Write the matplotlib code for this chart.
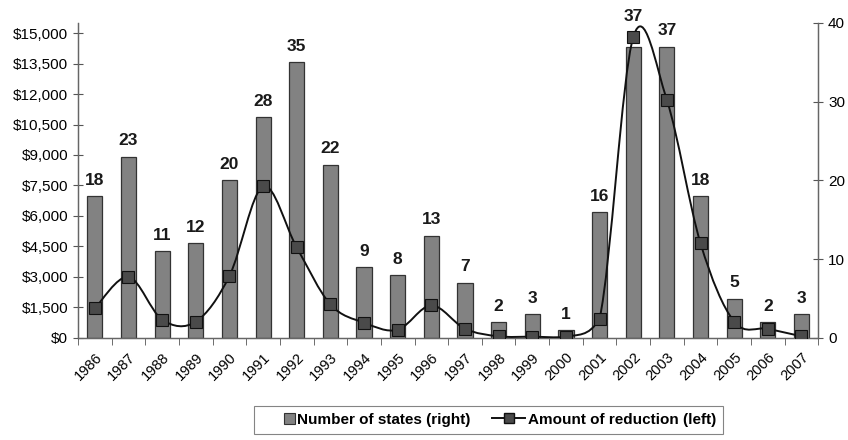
import matplotlib
matplotlib.use("Agg")
from matplotlib import pyplot as plt
from matplotlib.path import Path
from matplotlib.patches import PathPatch, Patch, Rectangle
from matplotlib.lines import Line2D
from matplotlib.legend_handler import HandlerPatch
from matplotlib.ticker import FuncFormatter, MultipleLocator
import numpy as np

plt.rcParams['font.family'] = ['Liberation Sans', 'DejaVu Sans']

# Donnees
years = [str(y) for y in range(1986, 2008)]
states = [18, 23, 11, 12, 20, 28, 35, 22, 9, 8, 13, 7, 2, 3, 1, 16, 37, 37, 18, 5, 2, 3]
reduction = [1450, 3000, 900, 800, 3050, 7450, 4450, 1650, 750, 400, 1600, 450,
             80, 60, 50, 950, 14800, 11700, 4650, 800, 450, 80]

fig = plt.figure(figsize=(8.48, 4.40), dpi=100)
ax = fig.add_axes([0.092, 0.232, 0.873, 0.716])
ax2 = ax.twinx()

x = np.arange(len(years))

# Barres : nombre d'etats (axe de droite)
ax2.bar(x, states, width=0.45, color='#828282', edgecolor='#333333', linewidth=0.9, zorder=1)
for xi, v in zip(x, states):
    dy = 16 if xi == 16 else 6
    ax2.annotate(str(v), (xi, v), xytext=(0, dy), textcoords='offset points',
                 ha='center', va='bottom', fontsize=12.5, fontweight='bold', color='#1a1a1a')

# Courbe lissee (Bezier) : montant de la reduction (axe de gauche)
pts = np.column_stack([x, reduction]).astype(float)
verts = [tuple(pts[0])]
codes = [Path.MOVETO]
n = len(pts)
for i in range(n - 1):
    p0 = pts[max(i - 1, 0)]
    p1 = pts[i]
    p2 = pts[i + 1]
    p3 = pts[min(i + 2, n - 1)]
    c1 = p1 + (p2 - p0) / 6.0
    c2 = p2 - (p3 - p1) / 6.0
    c1[1] = max(c1[1], 0)
    c2[1] = max(c2[1], 0)
    verts += [tuple(c1), tuple(c2), tuple(p2)]
    codes += [Path.CURVE4] * 3

ax.set_zorder(ax2.get_zorder() + 1)
ax.patch.set_visible(False)
ax.add_patch(PathPatch(Path(verts, codes), fill=False, edgecolor='#111111', linewidth=1.4, zorder=3))
ax.plot(x, reduction, linestyle='none', marker='s', markersize=8,
        markerfacecolor='#4a4a4a', markeredgecolor='#111111', markeredgewidth=0.8, zorder=4)

# Axes
ax.set_xlim(-0.5, len(years) - 0.5)
ax.set_ylim(0, 15500)
ax2.set_ylim(0, 40)
ax.yaxis.set_major_locator(MultipleLocator(1500))
ax.yaxis.set_major_formatter(FuncFormatter(lambda v, p: f"${v:,.0f}" if v <= 15000 else ""))
ax2.yaxis.set_major_locator(MultipleLocator(10))

ax.set_xticks(x)
ax.set_xticklabels(years, rotation=45, ha='right', rotation_mode='anchor', fontsize=10.5)
ax.set_xticks(np.arange(-0.5, len(years), 1.0), minor=True)
ax.tick_params(axis='x', which='major', length=0, pad=9)
ax.tick_params(axis='x', which='minor', length=5, direction='out', color='#555555')
ax.tick_params(axis='y', direction='inout', length=7, labelsize=11, color='#555555')
ax2.tick_params(axis='y', direction='inout', length=7, labelsize=11, color='#555555')

for a in (ax, ax2):
    a.spines['top'].set_visible(False)
    for s in ('left', 'right', 'bottom'):
        a.spines[s].set_color('#666666')
        a.spines[s].set_linewidth(0.9)


# Legende : carre pour les barres
def square_patch(legend, orig_handle, xdescent, ydescent, width, height, fontsize):
    side = height * 1.0
    return Rectangle((width - side - xdescent, -ydescent + (height - side) / 2), side, side)


handles = [Patch(facecolor='#828282', edgecolor='#333333', linewidth=0.8),
           Line2D([], [], color='#111111', linewidth=1.4, marker='s', markersize=7,
                  markerfacecolor='#4a4a4a', markeredgecolor='#111111')]
labels = ['Number of states (right)', 'Amount of reduction (left)']
leg = fig.legend(handles, labels, loc='center', bbox_to_anchor=(0.576, 0.046), ncol=2,
                 frameon=True, fancybox=False, handlelength=2.2, handletextpad=0.15,
                 columnspacing=1.4, borderpad=0.45, prop={'weight': 'bold', 'size': 11},
                 handler_map={Patch: HandlerPatch(patch_func=square_patch)})
leg.get_frame().set_edgecolor('#666666')
leg.get_frame().set_linewidth(0.8)

fig.savefig('out.png', dpi=100, facecolor='white')
